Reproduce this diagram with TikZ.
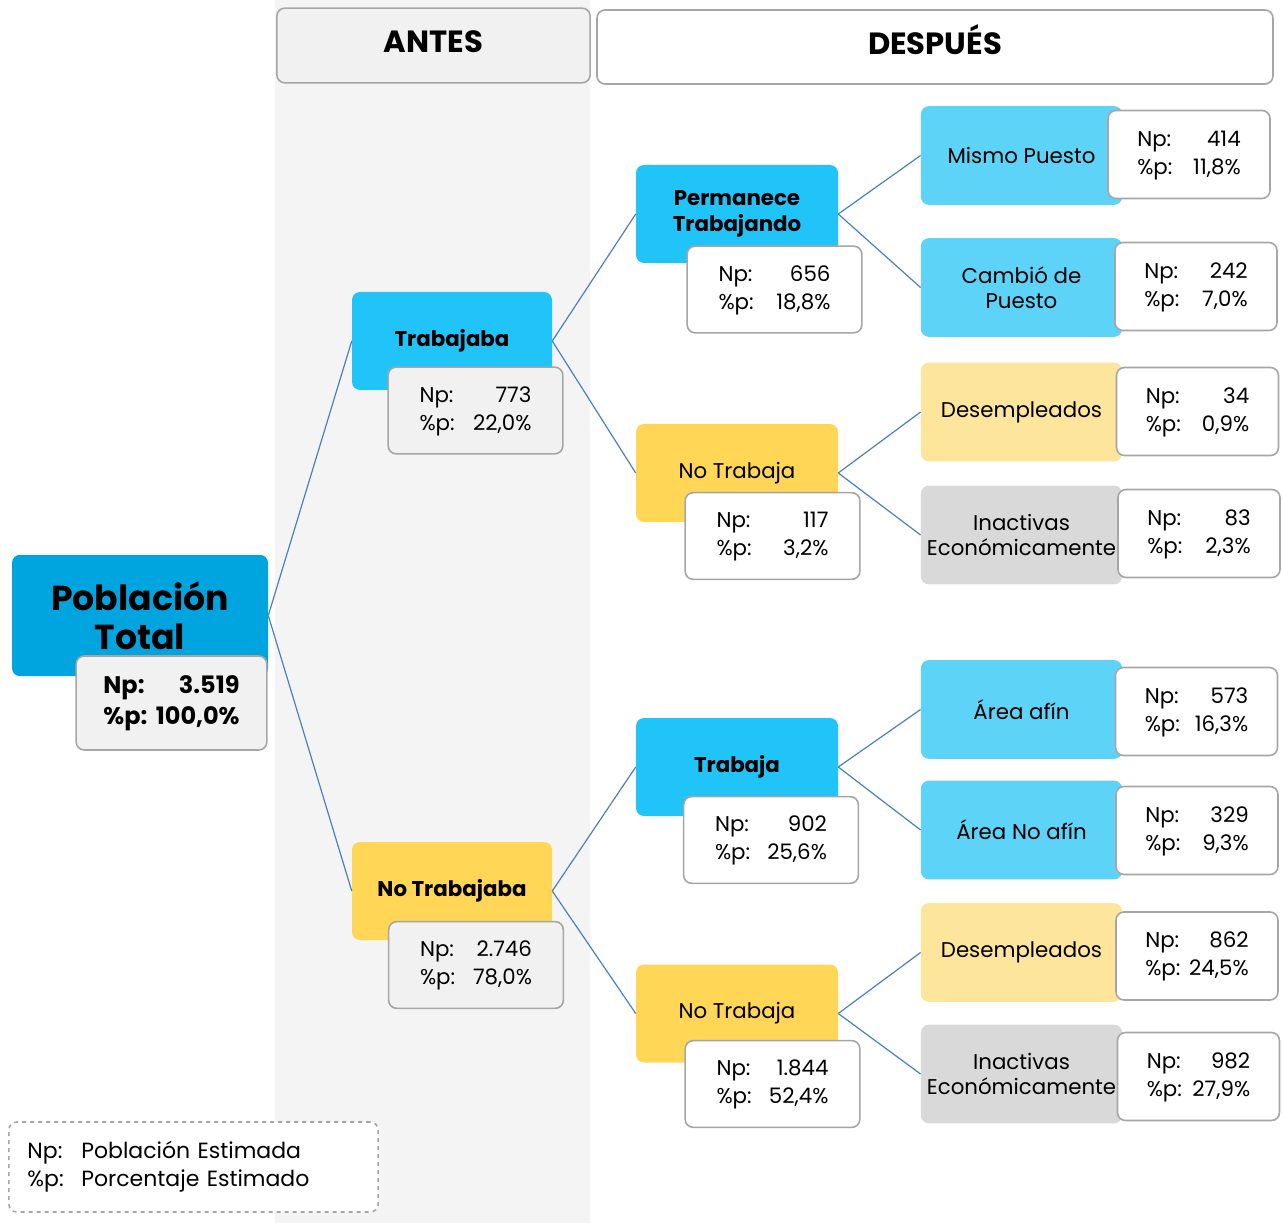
\documentclass[tikz,border=0pt]{standalone}
\usepackage{fontspec}
\setmainfont{Poppins}
\definecolor{deepblue}{HTML}{00A5DF}
\definecolor{midblue}{HTML}{21C4F9}
\definecolor{lightblue}{HTML}{5DD3F8}
\definecolor{gold}{HTML}{FFD655}
\definecolor{paleyellow}{HTML}{FDE59B}
\definecolor{softgray}{HTML}{D9D9D9}
\definecolor{panel}{HTML}{F1F1F1}
\definecolor{band}{HTML}{F4F4F4}
\definecolor{edgegray}{HTML}{A6A6A6}
\definecolor{linkblue}{HTML}{4A80C3}
\newcommand{\cifras}[3][3.4em]{\begin{tabular}{@{}l@{\hspace{0.2em}}r@{}}Np: & \makebox[#1][r]{#2}\\\%p: & \makebox[#1][r]{#3}\end{tabular}}
\begin{document}
\begin{tikzpicture}[x=0.75pt,y=-0.75pt,
    boxbase/.style={rectangle,rounded corners=6pt,align=center,inner sep=2pt},
    headbox/.style={boxbase,draw=edgegray,line width=1.2pt,text height=17pt,text depth=6pt,font=\fontsize{23}{27}\selectfont\bfseries},
    rootbox/.style={boxbase,fill=deepblue,minimum width=192pt,minimum height=91pt,font=\fontsize{26}{29}\selectfont\bfseries},
    lvlone/.style={boxbase,minimum width=150pt,minimum height=73.5pt,font=\fontsize{16}{19}\selectfont},
    lvltwo/.style={boxbase,minimum width=151.5pt,minimum height=73.5pt,font=\fontsize{16}{19}\selectfont},
    lvlthree/.style={boxbase,minimum width=151pt,minimum height=74pt,font=\fontsize{16}{19}\selectfont},
    numbox/.style={boxbase,draw=edgegray,line width=1.2pt,fill=white,minimum width=131pt,minimum height=65pt,font=\fontsize{16}{21}\selectfont},
    numsmall/.style={numbox,minimum width=121.5pt,minimum height=66pt},
    link/.style={draw=linkblue,line width=0.9pt},
  ]
\useasboundingbox (0,0) rectangle (1283,1223);
\fill[band] (275,0) rectangle (590,1223);

\node[headbox,fill=panel,minimum width=235pt,minimum height=56pt] (antes) at (433.5,45.5) {ANTES};
\node[headbox,fill=white,minimum width=507pt,minimum height=55.5pt] (despues) at (935,47) {DESPUÉS};

\node[rootbox] (pob) at (140,615.5) {Población\\Total};
\node[numbox,fill=panel,minimum width=143pt,minimum height=70.5pt,font=\fontsize{18}{23}\selectfont\bfseries] (pobN) at (171.5,703)
  {\begin{tabular}{@{}l@{\hspace{0.35em}}r@{}}Np: & 3.519\\\%p: & 100,0\%\end{tabular}};

\node[lvlone,fill=midblue,font=\fontsize{16}{19}\selectfont\bfseries] (trab) at (452,341) {Trabajaba};
\node[numbox,fill=panel] (trabN) at (475.5,410.5) {\cifras{773}{22,0\%}};
\node[lvlone,fill=gold,font=\fontsize{16}{19}\selectfont\bfseries] (notrab) at (452,891) {No Trabajaba};
\node[numbox,fill=panel] (notrabN) at (476,965) {\cifras{2.746}{78,0\%}};

\node[lvltwo,fill=midblue,font=\fontsize{16}{19}\selectfont\bfseries] (perm) at (737,214) {Permanece\\Trabajando};
\node[numbox] (permN) at (774.5,289.5) {\cifras{656}{18,8\%}};
\node[lvltwo,fill=gold] (noA) at (737,473) {No Trabaja};
\node[numbox] (noAN) at (772.5,536) {\cifras{117}{3,2\%}};
\node[lvltwo,fill=midblue,font=\fontsize{16}{19}\selectfont\bfseries] (trabB) at (737,767) {Trabaja};
\node[numbox] (trabBN) at (771,840) {\cifras{902}{25,6\%}};
\node[lvltwo,fill=gold] (noB) at (737,1013.5) {No Trabaja};
\node[numbox] (noBN) at (772.5,1084) {\cifras{1.844}{52,4\%}};

\node[lvlthree,fill=lightblue] (mismo) at (1021.5,155.5) {Mismo Puesto};
\node[numsmall] (mismoN) at (1189,154.5) {\cifras[3em]{414}{11,8\%}};
\node[lvlthree,fill=lightblue] (cambio) at (1021.5,287.5) {Cambió de\\Puesto};
\node[numsmall] (cambioN) at (1196,286.5) {\cifras[3em]{242}{7,0\%}};
\node[lvlthree,fill=paleyellow] (desA) at (1021.5,412) {Desempleados};
\node[numsmall] (desAN) at (1197.5,411.5) {\cifras[3em]{34}{0,9\%}};
\node[lvlthree,fill=softgray] (inaA) at (1021.5,535) {Inactivas\\Económicamente};
\node[numsmall] (inaAN) at (1199,533.5) {\cifras[3em]{83}{2,3\%}};
\node[lvlthree,fill=lightblue] (afin) at (1021.5,709.5) {Área afín};
\node[numsmall] (afinN) at (1196.5,711.5) {\cifras[3em]{573}{16,3\%}};
\node[lvlthree,fill=lightblue] (noafin) at (1021.5,830) {Área No afín};
\node[numsmall] (noafinN) at (1197,830.5) {\cifras[3em]{329}{9,3\%}};
\node[lvlthree,fill=paleyellow] (desB) at (1021.5,952.5) {Desempleados};
\node[numsmall] (desBN) at (1197,956) {\cifras[3em]{862}{24,5\%}};
\node[lvlthree,fill=softgray] (inaB) at (1021.5,1074) {Inactivas\\Económicamente};
\node[numsmall] (inaBN) at (1198.5,1076.5) {\cifras[3em]{982}{27,9\%}};

\node[boxbase,draw=edgegray,dashed,line width=1.2pt,fill=white,minimum width=277pt,minimum height=67.5pt,text width=249pt,align=left,font=\fontsize{16.5}{21}\selectfont] (leyenda) at (193.5,1167)
  {\begin{tabular}{@{}l@{\hspace{0.8em}}l@{}}Np: & Población Estimada\\\%p: & Porcentaje Estimado\end{tabular}};

\path [link](pob.east) edge (trab.west);
\path [link](pob.east) edge (notrab.west);
\path [link](trab.east) edge (perm.west);
\path [link](trab.east) edge (noA.west);
\path [link](notrab.east) edge (trabB.west);
\path [link](notrab.east) edge (noB.west);
\path [link](perm.east) edge (mismo.west);
\path [link](perm.east) edge (cambio.west);
\path [link](noA.east) edge (desA.west);
\path [link](noA.east) edge (inaA.west);
\path [link](trabB.east) edge (afin.west);
\path [link](trabB.east) edge (noafin.west);
\path [link](noB.east) edge (desB.west);
\path [link](noB.east) edge (inaB.west);
\end{tikzpicture}
\end{document}
